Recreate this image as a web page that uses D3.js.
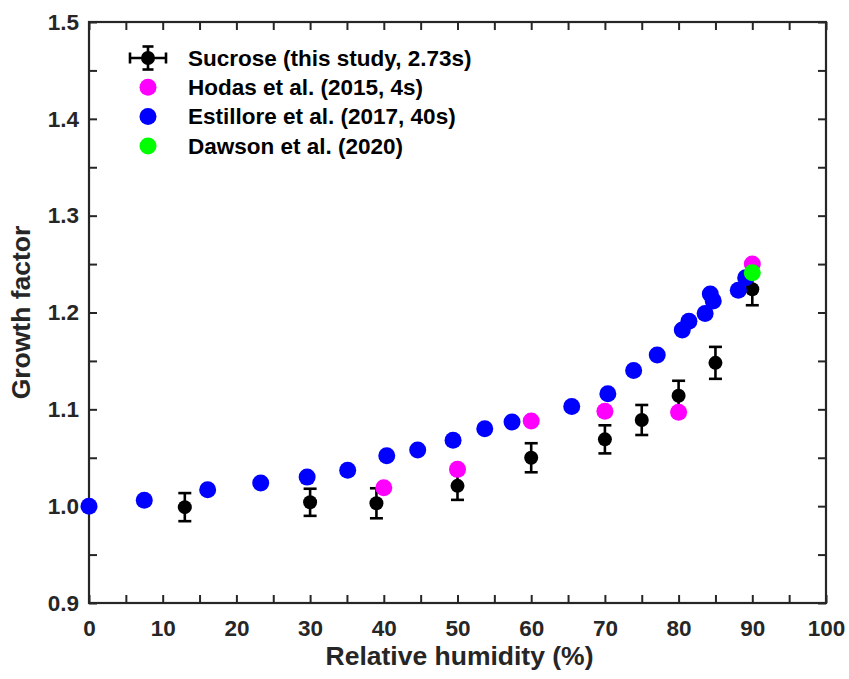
<!DOCTYPE html>
<html>
<head>
<meta charset="utf-8">
<script src="https://cdn.jsdelivr.net/npm/d3@7"></script>
<style>
  html, body { margin: 0; padding: 0; background: #fff; }
  svg { display: block; font-family: "Liberation Sans", Arial, sans-serif; }
</style>
</head>
<body>
<svg id="chart" width="849" height="679"></svg>
<script>
// ---- Data ----
const sucroseRH = [13, 30, 39, 50, 60, 70, 75, 80, 85, 90];
const sucroseGF = [0.999, 1.004, 1.003, 1.021, 1.050, 1.069, 1.089, 1.114, 1.148, 1.224];
const sucroseErr = [0.0145, 0.014, 0.0155, 0.0145, 0.015, 0.0145, 0.0155, 0.0155, 0.0165, 0.0165];

const hodasRH = [40, 50, 60, 70, 80, 90];
const hodasGF = [1.019, 1.038, 1.088, 1.098, 1.097, 1.250];

const estilloreRH = [0, 7.5, 16.1, 23.3, 29.6, 35.1, 40.4, 44.6, 49.4, 53.7, 57.4, 65.5, 70.4, 73.9, 77.1, 80.5, 81.4, 83.6, 84.3, 84.7, 88.1, 89.1];
const estilloreGF = [1.0, 1.006, 1.017, 1.024, 1.030, 1.037, 1.052, 1.058, 1.068, 1.080, 1.087, 1.103, 1.116, 1.140, 1.156, 1.182, 1.191, 1.199, 1.219, 1.212, 1.223, 1.236];

const dawsonRH = [90];
const dawsonGF = [1.241];

const legendLabels = ["Sucrose (this study, 2.73s)", "Hodas et al. (2015, 4s)", "Estillore et al. (2017, 40s)", "Dawson et al. (2020)"];
const xTickValues = d3.range(0, 101, 5);
const yTickValues = d3.range(0, 13).map(i => +(0.9 + i * 0.05).toFixed(2));
const xLabel = "Relative humidity (%)";
const yLabel = "Growth factor";

// ---- Layout ----
const svg = d3.select("#chart");
const L = 89, R = 826, T = 22, B = 603;
const x = d3.scaleLinear().domain([0, 100]).range([L, R]);
const y = d3.scaleLinear().domain([0.9, 1.5]).range([B, T]);
const axisColor = "#262626";
const tickFont = "22.5px";

function styleAxis(g) {
  g.select(".domain").remove();
  g.selectAll(".tick line").attr("stroke", axisColor).attr("stroke-width", 2);
  g.selectAll(".tick text").attr("fill", axisColor)
    .style("font-size", tickFont).style("font-weight", "bold")
    .style("font-family", '"Liberation Sans", Arial, sans-serif');
}

const isMajorX = v => v % 10 === 0;
const isMajorY = v => Math.abs(Math.round(v * 10) - v * 10) < 1e-6;

// bottom
svg.append("g").attr("transform", `translate(0,${B})`)
  .call(d3.axisBottom(x).tickValues(xTickValues).tickSizeInner(-8).tickSizeOuter(0).tickPadding(17)
    .tickFormat(v => isMajorX(v) ? d3.format("d")(v) : ""))
  .call(styleAxis);
// top
svg.append("g").attr("transform", `translate(0,${T})`)
  .call(d3.axisTop(x).tickValues(xTickValues).tickSizeInner(-8).tickSizeOuter(0).tickFormat(""))
  .call(styleAxis);
// left
svg.append("g").attr("transform", `translate(${L},0)`)
  .call(d3.axisLeft(y).tickValues(yTickValues).tickSizeInner(-8).tickSizeOuter(0).tickPadding(10)
    .tickFormat(v => isMajorY(v) ? d3.format(".1f")(v) : ""))
  .call(styleAxis);
// right
svg.append("g").attr("transform", `translate(${R},0)`)
  .call(d3.axisRight(y).tickValues(yTickValues).tickSizeInner(-8).tickSizeOuter(0).tickFormat(""))
  .call(styleAxis);

// frame
svg.append("rect").attr("x", L).attr("y", T).attr("width", R - L).attr("height", B - T)
  .attr("fill", "none").attr("stroke", axisColor).attr("stroke-width", 2.2);

// axis labels
svg.append("text").attr("x", (L + R) / 2 + 2).attr("y", 665).attr("text-anchor", "middle")
  .attr("fill", axisColor).style("font-size", "26.5px").style("font-weight", "bold").text(xLabel);
svg.append("text").attr("transform", `translate(30,${(T + B) / 2}) rotate(-90)`).attr("text-anchor", "middle")
  .attr("fill", axisColor).style("font-size", "26.5px").style("font-weight", "bold").text(yLabel);

// ---- Marks ----
const sucrose = sucroseRH.map((r, i) => ({ rh: r, gf: sucroseGF[i], e: sucroseErr[i] }));
const capW = 6.5;
const eb = svg.append("g").attr("stroke", "#000").attr("stroke-width", 2.6);
sucrose.forEach(d => {
  eb.append("line").attr("x1", x(d.rh)).attr("x2", x(d.rh)).attr("y1", y(d.gf - d.e)).attr("y2", y(d.gf + d.e));
  eb.append("line").attr("x1", x(d.rh) - capW).attr("x2", x(d.rh) + capW).attr("y1", y(d.gf - d.e)).attr("y2", y(d.gf - d.e));
  eb.append("line").attr("x1", x(d.rh) - capW).attr("x2", x(d.rh) + capW).attr("y1", y(d.gf + d.e)).attr("y2", y(d.gf + d.e));
});
svg.append("g").selectAll("circle").data(sucrose).join("circle")
  .attr("cx", d => x(d.rh)).attr("cy", d => y(d.gf)).attr("r", 7).attr("fill", "#000");

function dots(rh, gf, color) {
  svg.append("g").selectAll("circle").data(rh.map((r, i) => [r, gf[i]])).join("circle")
    .attr("cx", d => x(d[0])).attr("cy", d => y(d[1])).attr("r", 8.5).attr("fill", color);
}
dots(estilloreRH, estilloreGF, "#0000ff");
dots(hodasRH, hodasGF, "#ff00ff");
dots(dawsonRH, dawsonGF, "#00ff00");

// ---- Legend ----
const legX = 148, legY0 = 58, legDy = 29.3, textX = 188;
const lg = svg.append("g");
// sucrose marker with errorbars
lg.append("line").attr("x1", legX - 18).attr("x2", legX + 18).attr("y1", legY0).attr("y2", legY0).attr("stroke", "#000").attr("stroke-width", 2.6);
lg.append("line").attr("x1", legX - 18).attr("x2", legX - 18).attr("y1", legY0 - 5.5).attr("y2", legY0 + 5.5).attr("stroke", "#000").attr("stroke-width", 2.6);
lg.append("line").attr("x1", legX + 18).attr("x2", legX + 18).attr("y1", legY0 - 5.5).attr("y2", legY0 + 5.5).attr("stroke", "#000").attr("stroke-width", 2.6);
lg.append("line").attr("x1", legX).attr("x2", legX).attr("y1", legY0 - 11.5).attr("y2", legY0 + 11.5).attr("stroke", "#000").attr("stroke-width", 2.6);
lg.append("line").attr("x1", legX - 5.5).attr("x2", legX + 5.5).attr("y1", legY0 - 11.5).attr("y2", legY0 - 11.5).attr("stroke", "#000").attr("stroke-width", 2.6);
lg.append("line").attr("x1", legX - 5.5).attr("x2", legX + 5.5).attr("y1", legY0 + 11.5).attr("y2", legY0 + 11.5).attr("stroke", "#000").attr("stroke-width", 2.6);
lg.append("circle").attr("cx", legX).attr("cy", legY0).attr("r", 7).attr("fill", "#000");
const legColors = [null, "#ff00ff", "#0000ff", "#00ff00"];
legColors.forEach((c, i) => {
  if (c) lg.append("circle").attr("cx", legX).attr("cy", legY0 + i * legDy).attr("r", 8.5).attr("fill", c);
});
legendLabels.forEach((t, i) => {
  lg.append("text").attr("x", textX).attr("y", legY0 + i * legDy).attr("dy", "0.35em")
    .attr("fill", "#000").style("font-size", "22.5px").style("font-weight", "bold").text(t);
});
</script>
</body>
</html>
